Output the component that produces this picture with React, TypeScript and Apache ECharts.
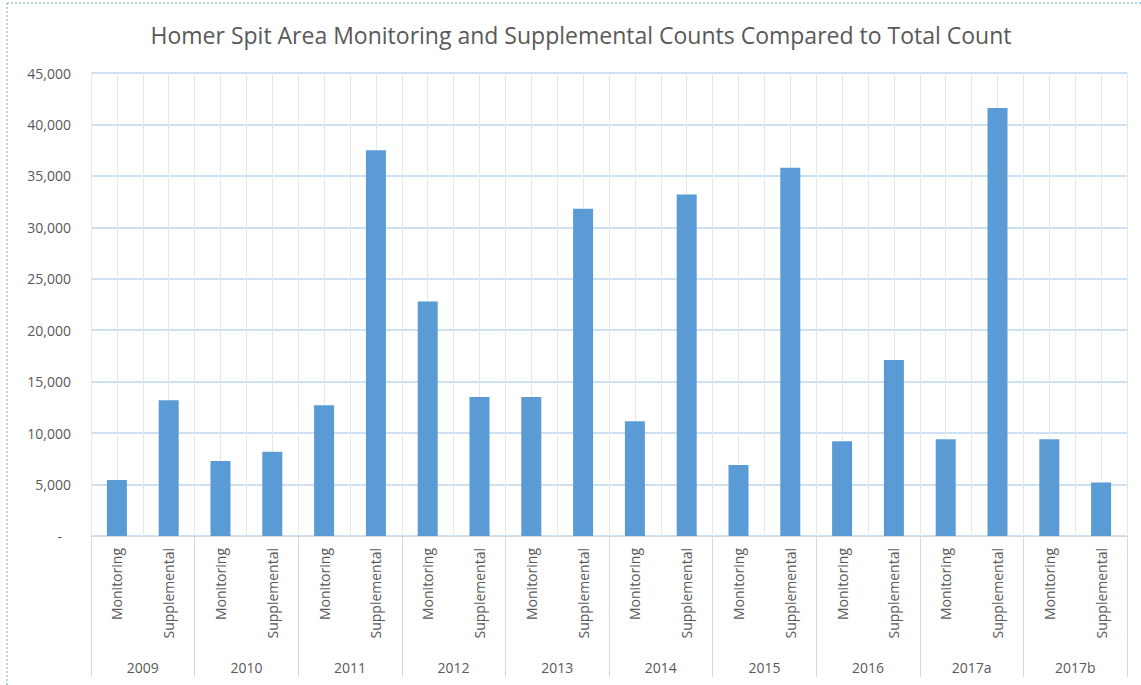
import React, { useEffect, useRef } from "react";
import * as echarts from "echarts";

const years = ["2009", "2010", "2011", "2012", "2013", "2014", "2015", "2016", "2017a", "2017b"];
const countTypes = ["Monitoring", "Supplemental"];
const monitoringCounts = [5450, 7300, 12700, 22800, 13500, 11150, 6900, 9200, 9400, 9400];
const supplementalCounts = [13200, 8200, 37500, 13500, 31800, 33200, 35800, 17100, 41600, 5200];
const yTicks = [0, 5000, 10000, 15000, 20000, 25000, 30000, 35000, 40000, 45000];

const FONT = "'Open Sans', 'DejaVu Sans', sans-serif";
const TEXT = "#595959";

export default function App() {
  const ref = useRef<HTMLDivElement>(null);
  useEffect(() => {
    document.body.style.margin = "0";
    const chart = echarts.init(ref.current!, null, { renderer: "svg" });
    const cats: string[] = [];
    const vals: number[] = [];
    years.forEach((y, i) => {
      cats.push(countTypes[0]);
      vals.push(monitoringCounts[i]);
      cats.push(countTypes[1]);
      vals.push(supplementalCounts[i]);
    });
    const half = cats.length * 2;
    chart.setOption({
      animation: false,
      backgroundColor: "#ffffff",
      title: {
        text: "Homer Spit Area Monitoring and Supplemental Counts Compared to Total Count",
        left: 576,
        textAlign: "center",
        top: 18,
        textStyle: { fontFamily: FONT, fontSize: 23, fontWeight: "normal", color: TEXT },
      },
      grid: { left: 91, right: 14, top: 73, bottom: 149, containLabel: false },
      graphic: [
        { type: "line", shape: { x1: 7, y1: 3, x2: 1141, y2: 3 }, style: { stroke: "#9dc3e6", lineWidth: 1.5, lineDash: [2, 2] } },
        { type: "line", shape: { x1: 7, y1: 3, x2: 7, y2: 685 }, style: { stroke: "#9dc3e6", lineWidth: 1.5, lineDash: [2, 2] } },
      ],
      xAxis: [
        {
          type: "category",
          data: cats,
          position: "bottom",
          axisLine: { show: true, lineStyle: { color: "#d9d9d9" } },
          axisTick: { show: false },
          splitLine: { show: false },
          axisLabel: { interval: 0, rotate: 90, margin: 12, fontFamily: FONT, fontSize: 14, color: TEXT },
        },
        {
          type: "category",
          data: years,
          position: "bottom",
          axisLine: { show: false },
          axisTick: { show: true, interval: 0, length: 141, lineStyle: { color: "#d9d9d9" } },
          axisLabel: { interval: 0, margin: 124, fontFamily: FONT, fontSize: 14, color: TEXT },
        },
        {
          type: "value",
          min: 0,
          max: half,
          interval: 1,
          position: "top",
          axisLine: { show: false },
          axisTick: { show: false },
          axisLabel: { show: false },
          splitLine: { show: true, lineStyle: { color: "#e8e8e8" } },
        },
      ],
      yAxis: {
        type: "value",
        min: yTicks[0],
        max: yTicks[yTicks.length - 1],
        interval: yTicks[1] - yTicks[0],
        axisLine: { show: false },
        axisTick: { show: false },
        splitLine: { show: true, lineStyle: { color: "#bdd7ee", width: 1.5 } },
        axisLabel: {
          margin: 20,
          fontFamily: FONT,
          fontSize: 14,
          color: TEXT,
          formatter: (v: number) => (v === 0 ? "{d|-}" : v.toLocaleString("en-US")),
          rich: { d: { padding: [0, 9, 0, 0], fontFamily: FONT, fontSize: 14, color: TEXT } },
        },
      },
      series: [
        {
          type: "bar",
          xAxisIndex: 0,
          data: vals,
          barWidth: 20,
          itemStyle: { color: "#5b9bd5" },
          z: 3,
        },
      ],
    });
    return () => chart.dispose();
  }, []);
  return <div ref={ref} style={{ width: 1141, height: 685 }} />;
}
